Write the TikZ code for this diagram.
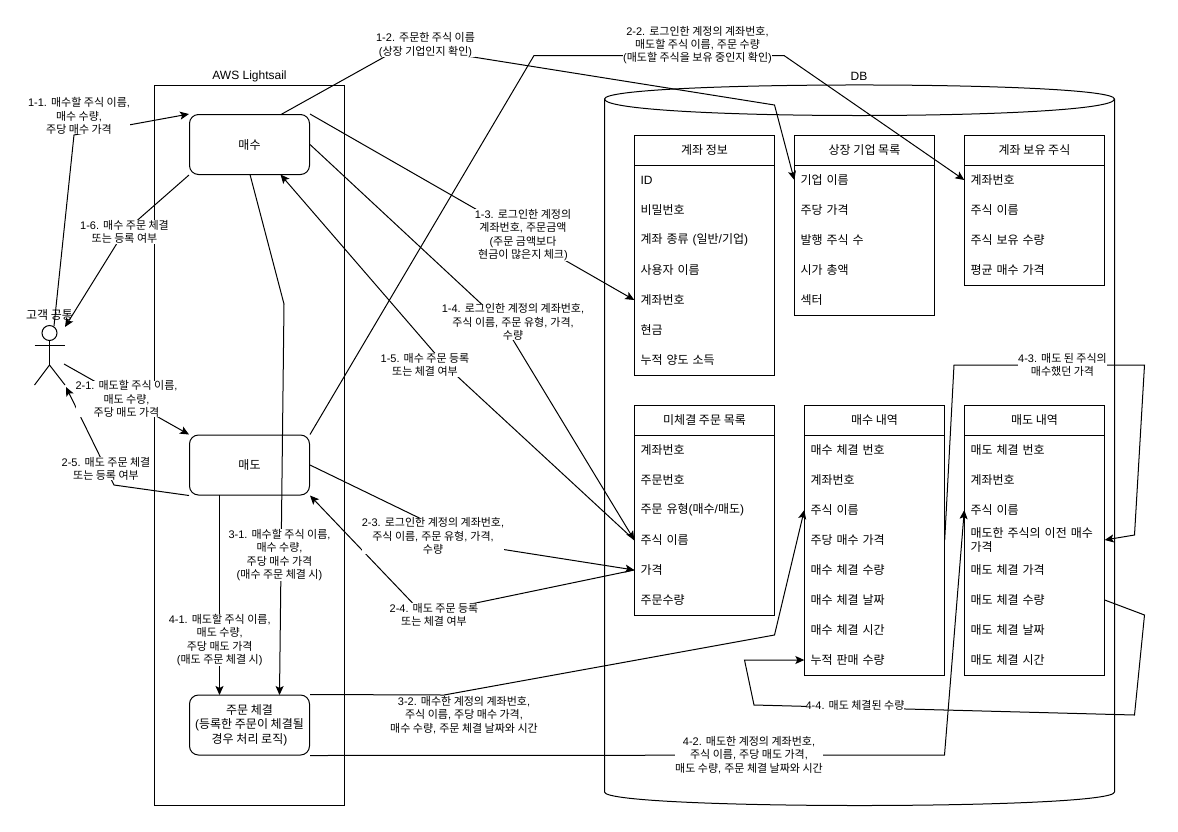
\documentclass[tikz,border=0pt]{standalone}
\usepackage{fontspec}
\setmainfont{Liberation Sans}
\newfontfamily\krfont{Noto Sans CJK KR}
\usetikzlibrary{arrows.meta,calc}
\XeTeXinterchartokenstate=1
\newXeTeXintercharclass\krclass
\count255="AC00
\loop
  \XeTeXcharclass\count255=\krclass
  \ifnum\count255<"D7A3 \advance\count255 by 1 \repeat
\XeTeXinterchartoks 0 \krclass={\krfont}
\XeTeXinterchartoks 4095 \krclass={\krfont}
\XeTeXinterchartoks \krclass 0={\rmfamily}
\XeTeXinterchartoks 4095 0={\rmfamily}
\pgfdeclarelayer{bg}
\pgfdeclarelayer{fg}
\pgfsetlayers{bg,main,fg}
\tikzset{
  line/.style={line width=1pt},
  arr/.style={line width=1pt,-{Stealth[length=9pt,width=8pt,inset=2pt]}},
  lbl/.style={fill=white,inner sep=0pt,align=center,font=\fontsize{11}{13.4}\selectfont},
  txt/.style={inner sep=0pt,align=center,font=\fontsize{12}{14}\selectfont},
  proc/.style={draw,line width=1pt,rounded corners=9pt,minimum width=120pt,minimum height=60pt,inner sep=0pt,align=center,font=\fontsize{12}{14.3}\selectfont,fill=white},
  thead/.style={draw,line width=1pt,minimum width=140pt,minimum height=30pt,inner sep=0pt,font=\fontsize{12}{14}\selectfont},
  trow/.style={inner xsep=6pt,inner ysep=0pt,text width=128pt,minimum height=30pt,align=left,font=\fontsize{12}{14}\selectfont},
}
\newcommand{\dbtable}[6]{%
  \node[thead] (#1h) at (#3+70,#4+15) {#2};
  \foreach \t [count=\i] in {#6} {
    \pgfmathsetmacro{\yy}{#4+15+30*\i}
    \node[trow] (#1\i) at (#3+70,\yy) {\t};
  }
  \draw[line width=1pt] (#1h.south west) rectangle (#1#5.south east);
}
\begin{document}
\begin{tikzpicture}[x=1pt,y=-1pt]
\useasboundingbox (0,0) rectangle (1178,831);
\begin{pgfonlayer}{bg}
  \fill[white] (0,0) rectangle (1178,831);
  % AWS box
  \draw[line] (154.5,85) rectangle (344.5,805);
  \node[txt] (awsl) at (249.5,76) {AWS Lightsail};
  % DB cylinder
  \draw[line,fill=white] (604.5,99) .. controls (604.5,80.3) and (1114.5,80.3) .. (1114.5,99)
     -- (1114.5,792) .. controls (1114.5,810) and (604.5,810) .. (604.5,792) -- cycle;
  \draw[line] (604.5,99) .. controls (604.5,121) and (1114.5,121) .. (1114.5,99);
  \node[txt] (dbl) at (859,76) {DB};
  % tables
  \dbtable{acc}{계좌 정보}{634.5}{135}{7}{ID,비밀번호,계좌 종류 (일반/기업),사용자 이름,계좌번호,현금,누적 양도 소득}
  \dbtable{lst}{상장 기업 목록}{794.5}{135}{5}{기업 이름,주당 가격,발행 주식 수,시가 총액,섹터}
  \dbtable{hld}{계좌 보유 주식}{964.5}{135}{4}{계좌번호,주식 이름,주식 보유 수량,평균 매수 가격}
  \dbtable{pnd}{미체결 주문 목록}{634.5}{405}{6}{계좌번호,주문번호,주문 유형(매수/매도),주식 이름,가격,주문수량}
  \dbtable{bh}{매수 내역}{804.5}{405}{8}{매수 체결 번호,계좌번호,주식 이름,주당 매수 가격,매수 체결 수량,매수 체결 날짜,매수 체결 시간,누적 판매 수량}
  \dbtable{sh}{매도 내역}{964.5}{405}{8}{매도 체결 번호,계좌번호,주식 이름,{매도한 주식의 이전 매수\\가격},매도 체결 가격,매도 체결 수량,매도 체결 날짜,매도 체결 시간}
  % process boxes
  \node[proc] (buy) at (249.5,144.5) {매수};
  \node[proc] (sell) at (249.5,465) {매도};
  \node[proc] (exec) at (249.5,725) {주문 체결\\(등록한 주문이 체결될\\경우 처리 로직)};
  % actor
  \node[draw,line width=1pt,circle,minimum size=15pt,inner sep=0pt] (head) at (49.5,333) {};
  \draw[line] (head.south) -- (49.5,365) coordinate (hip);
  \draw[line] (34.5,345.5) -- (65,345.5);
  \draw[line] (34.5,385) -- (hip) -- (65,385);
  \node[txt] (actl) at (49.5,315) {고객 공통};
  \coordinate (a11) at (54,326);
  \coordinate (a16) at (65,327);
  \coordinate (a21) at (64,364);
  \coordinate (a25) at (66,387);
\end{pgfonlayer}
\begin{pgfonlayer}{fg}
  \node[lbl] (l11) at (79,116) {1-1. 매수할 주식 이름,\\매수 수량,\\주당 매수 가격};
  \node[lbl] (l12) at (425.5,45) {1-2. 주문한 주식 이름\\(상장 기업인지 확인)};
  \node[lbl] (l13) at (523,235) {1-3. 로그인한 계정의\\계좌번호, 주문금액\\(주문 금액보다\\현금이 많은지 체크)};
  \node[lbl] (l14) at (513,322) {1-4. 로그인한 계정의 계좌번호,\\주식 이름, 주문 유형, 가격,\\수량};
  \node[lbl] (l15) at (425,365) {1-5. 매수 주문 등록\\또는 체결 여부};
  \node[lbl] (l16) at (124.5,232) {1-6. 매수 주문 체결\\또는 등록 여부};
  \node[lbl] (l21) at (126.5,399) {2-1. 매도할 주식 이름,\\매도 수량,\\주당 매도 가격};
  \node[lbl] (l22) at (697.5,45) {2-2. 로그인한 계정의 계좌번호,\\매도할 주식 이름, 주문 수량\\(매도할 주식을 보유 중인지 확인)};
  \node[lbl] (l23) at (433,536) {2-3. 로그인한 계정의 계좌번호,\\주식 이름, 주문 유형, 가격,\\수량};
  \node[lbl] (l24) at (434,615) {2-4. 매도 주문 등록\\또는 체결 여부};
  \node[lbl] (l25) at (106,468.7) {2-5. 매도 주문 체결\\또는 등록 여부};
  \node[lbl] (l31) at (279.5,555) {3-1. 매수할 주식 이름,\\매수 수량,\\주당 매수 가격\\(매수 주문 체결 시)};
  \node[lbl] (l41) at (219.7,640) {4-1. 매도할 주식 이름,\\매도 수량,\\주당 매도 가격\\(매도 주문 체결 시)};
  \node[lbl] (l32) at (464,715) {3-2. 매수한 계정의 계좌번호,\\주식 이름, 주당 매수 가격,\\매수 수량, 주문 체결 날짜와 시간};
  \node[lbl] (l42) at (749,755) {4-2. 매도한 계정의 계좌번호,\\주식 이름, 주당 매도 가격,\\매도 수량, 주문 체결 날짜와 시간};
  \node[lbl] (l43) at (1062.5,365) {4-3. 매도 된 주식의\\매수했던 가격};
  \node[lbl] (l44) at (855,705) {4-4. 매도 체결된 수량};
\end{pgfonlayer}
% connectors
\coordinate (buyTop) at (281,114.5);
\coordinate (buyBot) at (250,174.5);
\coordinate (buyIn) at (280.5,174.5);
\coordinate (sellBot) at (219.5,495);
\coordinate (execL) at (219.5,695);
\coordinate (execR) at (279.5,695);
\draw[arr] (a11) -- (74,135) -- (buy.north west);
\draw[arr] (buyTop) -- (404,46) -- (774.5,105) -- (lst1.west);
\draw[arr] (buy.north east) -- (acc5.west);
\draw[arr] (buy.east) -- (504,325) -- (pnd4.west);
\draw[arr] (pnd4.west) -- (445,365) -- (buyIn);
\draw[arr] (buy.south west) -- (124,232) -- (a16);
\draw[arr] (a21) -- (sell.north west);
\draw[arr] (sell.north east) -- (534,55.5) -- (784,55.5) -- (hld1.west);
\draw[arr] (sell.east) -- (475,545) -- (pnd5.west);
\draw[arr] (pnd5.west) -- (423,614) -- (sell.south east);
\draw[arr] (sell.south west) -- (114,485) -- (a25);
\draw[arr] (buyBot) -- (284,304) -- (execR);
\draw[arr] (sellBot) -- (execL);
\draw[arr] (exec.north east) -- (444,695) -- (774.5,635) -- (bh3.west);
\draw[arr] (exec.south east) -- (944.5,755) -- (sh3.west);
\draw[arr] (bh4.east) -- (954,365) -- (1144.5,365) -- (1134.5,535) -- (sh4.east);
\draw[arr] (sh6.east) -- (1144.5,615) -- (1134.5,715) -- (754,705) -- (744.5,660) -- (bh8.west);
\end{tikzpicture}
\end{document}
